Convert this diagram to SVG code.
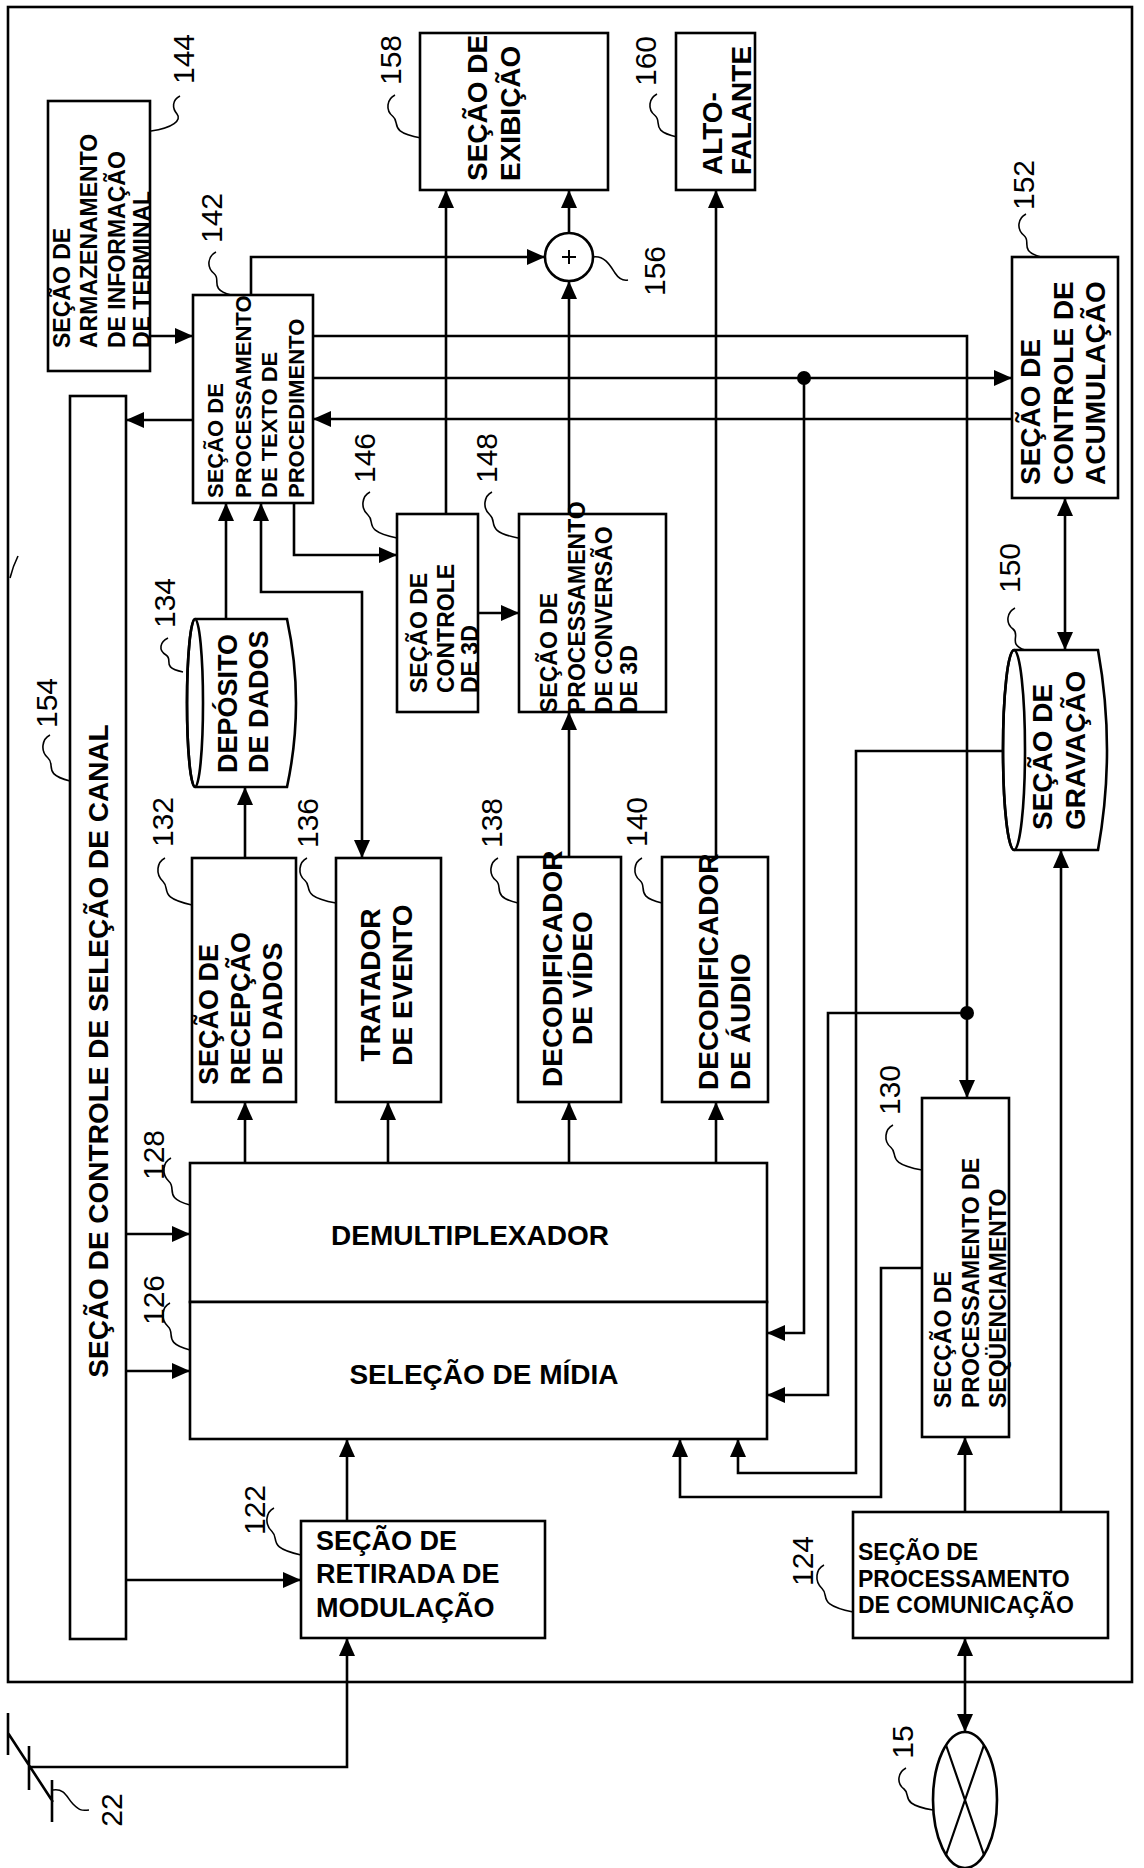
<svg xmlns="http://www.w3.org/2000/svg" width="1144" height="1868" viewBox="0 0 1144 1868">
<style>
.box{fill:#fff;stroke:#000;stroke-width:2.6}
.t{font-family:"Liberation Sans",Arial,sans-serif;font-weight:bold;fill:#000}
.lbl{font-family:"Liberation Sans",Arial,sans-serif;font-size:30px;fill:#000}
.ln{fill:none;stroke:#000;stroke-width:2.6}
.a{marker-end:url(#ah)}
.aa{marker-start:url(#ah);marker-end:url(#ah)}
.lead{fill:none;stroke:#000;stroke-width:1.6}
</style>
<defs>
<marker id="ah" markerUnits="userSpaceOnUse" markerWidth="18" markerHeight="16" refX="18" refY="8" orient="auto-start-reverse" viewBox="0 0 18 16"><path d="M0,0 L18,8 L0,16 Z" fill="#000"/></marker>
</defs>
<rect width="1144" height="1868" fill="#fff"/>
<rect id="frame" x="8" y="7" width="1124" height="1675" fill="none" stroke="#000" stroke-width="2.6"/>

<g id="connectors">
<path class="ln a" d="M150 336 H193"/>
<path class="ln a" d="M193 420 H126"/>
<path class="ln a" d="M251 295 V257 H545"/>
<path class="ln a" d="M446 514 V190"/>
<path class="ln a" d="M569 514 V281"/>
<path class="ln a" d="M569 233 V190"/>
<path class="ln a" d="M716 857 V190"/>
<path class="ln a" d="M313 336 H967 V1098"/>
<path class="ln a" d="M967 1013 H828 V1395 H767"/>
<path class="ln a" d="M313 378 H1012"/>
<path class="ln a" d="M804 378 V1333 H767"/>
<path class="ln a" d="M1012 419 H313"/>
<path class="ln a" d="M294 503 V555 H397"/>
<path class="ln a" d="M478 613 H519"/>
<path class="ln a" d="M226 619 V503"/>
<path class="ln aa" d="M261 503 V592 H362 V858"/>
<path class="ln a" d="M245 858 V787"/>
<path class="ln a" d="M569 857 V712"/>
<path class="ln a" d="M245 1163 V1102"/>
<path class="ln a" d="M388 1163 V1102"/>
<path class="ln a" d="M569 1163 V1102"/>
<path class="ln a" d="M716 1163 V1102"/>
<path class="ln a" d="M126 1234 H190"/>
<path class="ln a" d="M126 1371 H190"/>
<path class="ln a" d="M126 1580 H301"/>
<path class="ln a" d="M347 1521 V1439"/>
<path class="ln a" d="M29 1767 H347 V1638"/>
<path class="ln a" d="M1005 751 H856 V1473 H738 V1439"/>
<path class="ln a" d="M922 1268 H881 V1497 H680 V1439"/>
<path class="ln a" d="M965 1512 V1437"/>
<path class="ln a" d="M1061 1512 V850"/>
<path class="ln aa" d="M1065 498 V650"/>
<path class="ln aa" d="M965 1638 V1732"/>
<circle cx="967" cy="1013" r="7" fill="#000"/>
<circle cx="804" cy="378" r="7" fill="#000"/>
</g>

<g id="leaders">
<path class="lead" d="M10 578 Q13 566 18 556"/>
<path class="lead" d="M180 96 c -8 4 -8 12 -3 18 s -4 14 -26 17"/>
<path class="lead" d="M216 252 c -8 4 -10 15 -2 21.5 s -6 15 17 21.5"/>
<path class="lead" d="M395 95 c -8 4 -10 15 -2 21.5 s -6 15 28 21.5"/>
<path class="lead" d="M657 94 c -8 4 -10 15 -2 21.5 s -6 15 22 21.5"/>
<path class="lead" d="M593 257 c 12 -2 18 10 22 16 s 8 8 13 7"/>
<path class="lead" d="M1026 214 c -8 4 -10 15 -2 21.5 s -6 15 17 21.5"/>
<path class="lead" d="M370 492 c -8 4 -10 16 -2 23 s -6 16 29 23"/>
<path class="lead" d="M492 492 c -8 4 -10 16 -2 23 s -6 16 28 23"/>
<path class="lead" d="M168 638 c -8 4 -10 12 -2 17 s -6 12 17 17"/>
<path class="lead" d="M1015 608 c -8 4 -10 15 -2 21 s -6 15 12 21"/>
<path class="lead" d="M165 858 c -8 4 -10 16 -2 23.5 s -6 16 29 23.5"/>
<path class="lead" d="M307 858 c -8 4 -10 16 -2 22.5 s -6 16 31 22.5"/>
<path class="lead" d="M498 858 c -8 4 -10 16 -2 22.5 s -6 16 22 22.5"/>
<path class="lead" d="M642 858 c -8 4 -10 16 -2 22.5 s -6 16 22 22.5"/>
<path class="lead" d="M50 735 c -8 4 -10 16 -2 23 s -6 16 22 23"/>
<path class="lead" d="M171 1158 c -8 4 -10 16 -2 23.5 s -6 16 21 23.5"/>
<path class="lead" d="M170 1303 c -8 4 -10 16 -2 23.5 s -6 16 22 23.5"/>
<path class="lead" d="M893 1125 c -8 4 -10 16 -2 22.5 s -6 16 31 22.5"/>
<path class="lead" d="M274 1508 c -8 4 -10 16 -2 23.5 s -6 16 29 23.5"/>
<path class="lead" d="M824 1565 c -8 4 -10 16 -2 23.5 s -6 16 31 23.5"/>
<path class="lead" d="M906 1768 c -8 4 -10 15 -2 21 s -6 15 29 21"/>
<path class="lead" d="M53 1790 c 12 -2 14 8 20 14 s 8 7 16 6"/>
</g>

<g id="n144">
<rect class="box" x="48" y="101" width="102" height="270"/>
<text class="t" font-size="23" transform="translate(0 348) rotate(-90)"><tspan x="0" y="70">SEÇÃO DE</tspan><tspan x="0" y="97">ARMAZENAMENTO</tspan><tspan x="0" y="125">DE INFORMAÇÃO</tspan><tspan x="0" y="150">DE TERMINAL</tspan></text>
<text class="lbl" text-anchor="middle" transform="translate(0 59) rotate(-90)" x="0" y="194">144</text>
</g>

<g id="n142">
<rect class="box" x="193" y="295" width="120" height="208"/>
<text class="t" font-size="22" transform="translate(0 498) rotate(-90)"><tspan x="0" y="223">SEÇÃO DE</tspan><tspan x="0" y="251">PROCESSAMENTO</tspan><tspan x="0" y="277">DE TEXTO DE</tspan><tspan x="0" y="304">PROCEDIMENTO</tspan></text>
<text class="lbl" text-anchor="middle" transform="translate(0 218) rotate(-90)" x="0" y="222">142</text>
</g>

<g id="n154">
<rect class="box" x="70" y="396" width="56" height="1243"/>
<text class="t" font-size="28" text-anchor="middle" transform="translate(0 1051) rotate(-90)" x="0" y="108">SEÇÃO DE CONTROLE DE SELEÇÃO DE CANAL</text>
<text class="lbl" text-anchor="middle" transform="translate(0 703) rotate(-90)" x="0" y="57">154</text>
</g>

<g id="n158">
<rect class="box" x="420" y="33" width="188" height="157"/>
<text class="t" font-size="28" transform="translate(0 181) rotate(-90)"><tspan x="0" y="487">SEÇÃO DE</tspan><tspan x="0" y="520">EXIBIÇÃO</tspan></text>
<text class="lbl" text-anchor="middle" transform="translate(0 60) rotate(-90)" x="0" y="401">158</text>
</g>

<g id="n160">
<rect class="box" x="676" y="33" width="79" height="157"/>
<text class="t" font-size="28" transform="translate(0 175) rotate(-90)"><tspan x="0" y="722">ALTO-</tspan><tspan x="0" y="751">FALANTE</tspan></text>
<text class="lbl" text-anchor="middle" transform="translate(0 61) rotate(-90)" x="0" y="656">160</text>
</g>

<g id="n156">
<circle cx="569" cy="257" r="24" fill="#fff" stroke="#000" stroke-width="2.6"/>
<path d="M562 257 H576 M569 250 V264" stroke="#000" stroke-width="2"/>
<text class="lbl" text-anchor="middle" transform="translate(0 271) rotate(-90)" x="0" y="665">156</text>
</g>

<g id="n152">
<rect class="box" x="1012" y="257" width="106" height="241"/>
<text class="t" font-size="28" transform="translate(0 485) rotate(-90)"><tspan x="0" y="1040">SEÇÃO DE</tspan><tspan x="0" y="1073">CONTROLE DE</tspan><tspan x="0" y="1105">ACUMULAÇÃO</tspan></text>
<text class="lbl" text-anchor="middle" transform="translate(0 185) rotate(-90)" x="0" y="1034">152</text>
</g>

<g id="n146">
<rect class="box" x="397" y="514" width="81" height="198"/>
<text class="t" font-size="23" transform="translate(0 693) rotate(-90)"><tspan x="0" y="427">SEÇÃO DE</tspan><tspan x="0" y="454">CONTROLE</tspan><tspan x="0" y="478">DE 3D</tspan></text>
<text class="lbl" text-anchor="middle" transform="translate(0 458) rotate(-90)" x="0" y="375">146</text>
</g>

<g id="n148">
<rect class="box" x="519" y="514" width="147" height="198"/>
<text class="t" font-size="23" transform="translate(0 713) rotate(-90)"><tspan x="0" y="557">SEÇÃO DE</tspan><tspan x="0" y="585">PROCESSAMENTO</tspan><tspan x="0" y="612">DE CONVERSÃO</tspan><tspan x="0" y="637">DE 3D</tspan></text>
<text class="lbl" text-anchor="middle" transform="translate(0 458) rotate(-90)" x="0" y="497">148</text>
</g>

<g id="n134">
<path d="M195 619 L287 619 Q305 703 287 787 L195 787 A8 84 0 0 1 195 619 Z" fill="#fff" stroke="#000" stroke-width="2.6"/>
<ellipse cx="195" cy="703" rx="8" ry="84" fill="none" stroke="#000" stroke-width="2.6"/>
<text class="t" font-size="27" transform="translate(0 773) rotate(-90)"><tspan x="0" y="237">DEPÓSITO</tspan><tspan x="0" y="268">DE DADOS</tspan></text>
<text class="lbl" text-anchor="middle" transform="translate(0 603) rotate(-90)" x="0" y="175">134</text>
</g>

<g id="n150">
<path d="M1014 650 L1098 650 Q1116 750 1098 850 L1014 850 A11 100 0 0 1 1014 650 Z" fill="#fff" stroke="#000" stroke-width="2.6"/>
<ellipse cx="1014" cy="750" rx="11" ry="100" fill="none" stroke="#000" stroke-width="2.6"/>
<text class="t" font-size="28" transform="translate(0 830) rotate(-90)"><tspan x="0" y="1052">SEÇÃO DE</tspan><tspan x="0" y="1085">GRAVAÇÃO</tspan></text>
<text class="lbl" text-anchor="middle" transform="translate(0 568) rotate(-90)" x="0" y="1020">150</text>
</g>

<g id="n132">
<rect class="box" x="192" y="858" width="104" height="244"/>
<text class="t" font-size="27" transform="translate(0 1085) rotate(-90)"><tspan x="0" y="218">SEÇÃO DE</tspan><tspan x="0" y="250">RECEPÇÃO</tspan><tspan x="0" y="282">DE DADOS</tspan></text>
<text class="lbl" text-anchor="middle" transform="translate(0 822) rotate(-90)" x="0" y="173">132</text>
</g>

<g id="n136">
<rect class="box" x="336" y="858" width="105" height="244"/>
<text class="t" font-size="28" text-anchor="middle" transform="translate(0 985) rotate(-90)"><tspan x="0" y="380">TRATADOR</tspan><tspan x="0" y="412">DE EVENTO</tspan></text>
<text class="lbl" text-anchor="middle" transform="translate(0 823) rotate(-90)" x="0" y="318">136</text>
</g>

<g id="n138">
<rect class="box" x="518" y="857" width="103" height="245"/>
<text class="t" font-size="28" transform="translate(0 1087) rotate(-90)" x="0" y="562">DECODIFICADOR</text>
<text class="t" font-size="28" text-anchor="middle" transform="translate(0 978) rotate(-90)" x="0" y="592">DE VÍDEO</text>
<text class="lbl" text-anchor="middle" transform="translate(0 823) rotate(-90)" x="0" y="502">138</text>
</g>

<g id="n140">
<rect class="box" x="662" y="857" width="106" height="245"/>
<text class="t" font-size="28" transform="translate(0 1090) rotate(-90)"><tspan x="0" y="718">DECODIFICADOR</tspan><tspan x="0" y="750">DE ÁUDIO</tspan></text>
<text class="lbl" text-anchor="middle" transform="translate(0 822) rotate(-90)" x="0" y="647">140</text>
</g>

<g id="n128">
<rect class="box" x="190" y="1163" width="577" height="139"/>
<text class="t" font-size="28" text-anchor="middle" x="470" y="1245">DEMULTIPLEXADOR</text>
<text class="lbl" text-anchor="middle" transform="translate(0 1155) rotate(-90)" x="0" y="164">128</text>
</g>

<g id="n126">
<rect class="box" x="190" y="1302" width="577" height="137"/>
<text class="t" font-size="28" text-anchor="middle" x="484" y="1384">SELEÇÃO DE MÍDIA</text>
<text class="lbl" text-anchor="middle" transform="translate(0 1300) rotate(-90)" x="0" y="164">126</text>
</g>

<g id="n130">
<rect class="box" x="922" y="1098" width="87" height="339"/>
<text class="t" font-size="23" transform="translate(0 1408) rotate(-90)"><tspan x="0" y="951">SECÇÃO DE</tspan><tspan x="0" y="979">PROCESSAMENTO DE</tspan><tspan x="0" y="1006">SEQÜENCIAMENTO</tspan></text>
<text class="lbl" text-anchor="middle" transform="translate(0 1090) rotate(-90)" x="0" y="900">130</text>
</g>

<g id="n122">
<rect class="box" x="301" y="1521" width="244" height="117"/>
<text class="t" font-size="27"><tspan x="316" y="1550">SEÇÃO DE</tspan><tspan x="316" y="1583">RETIRADA DE</tspan><tspan x="316" y="1617">MODULAÇÃO</tspan></text>
<text class="lbl" text-anchor="middle" transform="translate(0 1510) rotate(-90)" x="0" y="265">122</text>
</g>

<g id="n124">
<rect class="box" x="853" y="1512" width="255" height="126"/>
<text class="t" font-size="23"><tspan x="858" y="1560">SEÇÃO DE</tspan><tspan x="858" y="1587">PROCESSAMENTO</tspan><tspan x="858" y="1613">DE COMUNICAÇÃO</tspan></text>
<text class="lbl" text-anchor="middle" transform="translate(0 1561) rotate(-90)" x="0" y="813">124</text>
</g>

<g id="n15">
<ellipse cx="965" cy="1800" rx="32" ry="68" fill="#fff" stroke="#000" stroke-width="2.6"/>
<path d="M946 1745 L984 1855 M984 1745 L946 1855" stroke="#000" stroke-width="2.2"/>
<text class="lbl" text-anchor="middle" transform="translate(0 1742) rotate(-90)" x="0" y="913">15</text>
</g>

<g id="n22">
<path d="M8 1713 V1755 M8 1733 L53 1802 M29 1746 V1790 M52 1780 V1822" fill="none" stroke="#000" stroke-width="2.6"/>
<text class="lbl" text-anchor="middle" transform="translate(0 1810) rotate(-90)" x="0" y="122">22</text>
</g>
</svg>
